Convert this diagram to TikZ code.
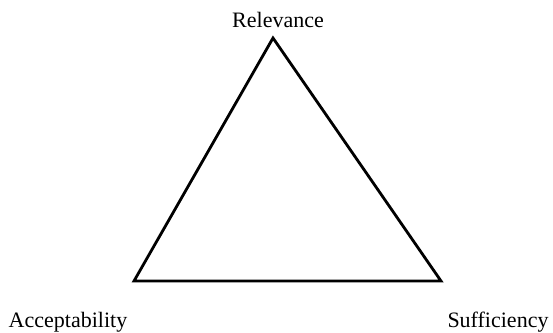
\documentclass[tikz,border=0pt]{standalone}
\usepackage{fontspec}
\setmainfont{Liberation Serif}
\usetikzlibrary{positioning}
\tikzset{
    corner/.style={inner sep=0pt},
    label/.style={font=\fontsize{22}{26}\selectfont, inner sep=0pt, anchor=base},
    side/.style={line width=2.8pt, line join=miter}
}
\begin{document}
\begin{tikzpicture}[x=1pt, y=-1pt]
    \useasboundingbox (0,0) rectangle (553,332);
    \coordinate (top) at (273,38);
    \coordinate (left) at (134,281);
    \coordinate (right) at (441,281);

    \node (relevance) [label] at (278,27) {Relevance};
    \node (accept) [label] at (68,327) {Acceptability};
    \node (suff) [label] at (498,327) {Sufficiency};

    \draw [side] (top) -- (right) -- (left) -- cycle;
\end{tikzpicture}
\end{document}
